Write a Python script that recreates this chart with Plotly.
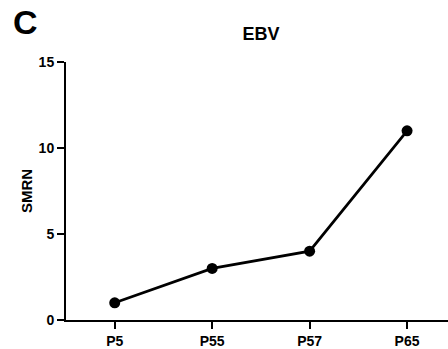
import plotly.graph_objects as go

categories = ["P5", "P55", "P57", "P65"]
values = [1, 3, 4, 11]
y_ticks = [0, 5, 10, 15]

FONT = "Arial, Liberation Sans, sans-serif"

fig = go.Figure()
fig.add_trace(go.Scatter(
    x=list(range(len(categories))), y=values,
    mode="lines+markers",
    line=dict(color="black", width=2.7),
    marker=dict(color="black", size=11),
    cliponaxis=False,
))

fig.update_layout(
    width=448, height=349,
    margin=dict(l=66, r=0, t=62, b=27),
    plot_bgcolor="white", paper_bgcolor="white",
    showlegend=False,
    font=dict(family=FONT, color="black"),
    title=dict(text="<b>EBV</b>", x=261 / 448, xanchor="center", xref="container",
               y=1 - 33.5 / 349, yanchor="middle", yref="container",
               font=dict(size=18, family=FONT, color="black")),
)

fig.update_xaxes(
    range=[-0.5, 3.42],
    tickvals=list(range(len(categories))), ticktext=[f"<b>{c}</b>" for c in categories],
    showgrid=False, zeroline=False,
    showline=True, linecolor="black", linewidth=2,
    ticks="outside", ticklen=7, tickwidth=2, tickcolor="black",
    tickfont=dict(size=14, family=FONT, color="black"),
)
fig.update_yaxes(
    range=[0, 15],
    tickvals=y_ticks, ticktext=[f"<b>{t}</b>" for t in y_ticks],
    showgrid=False, zeroline=False,
    showline=True, linecolor="black", linewidth=2,
    ticks="outside", ticklen=7, tickwidth=2, tickcolor="black",
    tickfont=dict(size=14, family=FONT, color="black"),
    title=dict(text="<b>SMRN</b>", font=dict(size=15, family=FONT, color="black"), standoff=2),
)

fig.add_annotation(text="<b>C</b>", x=(25 - 66) / 382, y=(322 - 22) / 260,
                   xref="paper", yref="paper",
                   xanchor="center", yanchor="middle", showarrow=False,
                   font=dict(size=34, family=FONT, color="black"))

fig.write_html("out.html")
